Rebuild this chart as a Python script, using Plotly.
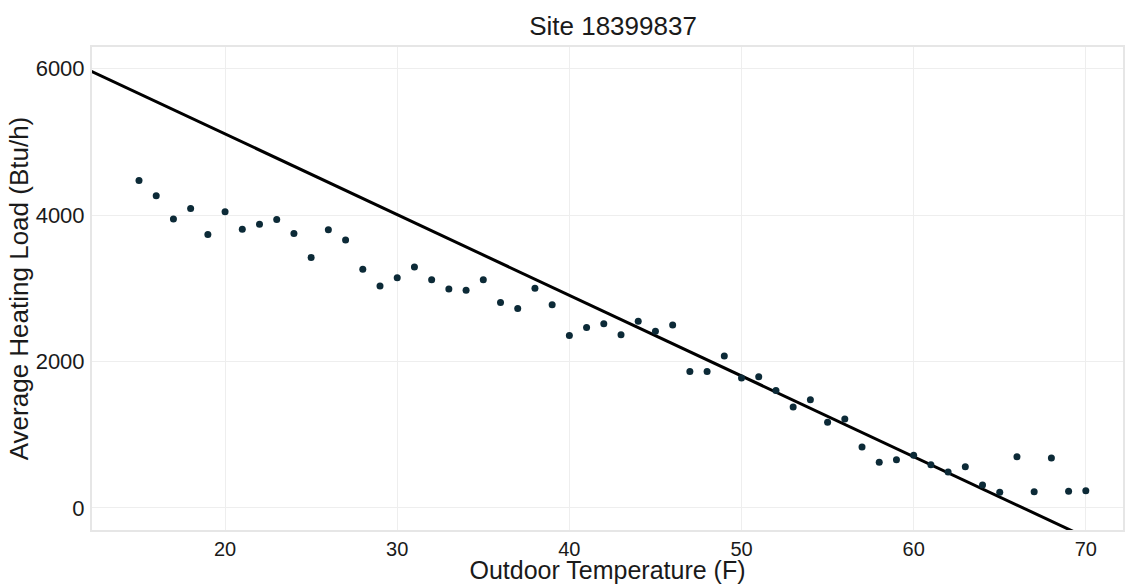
import plotly.graph_objects as go

# Daily-average outdoor temperature bins (F) and measured average heating load (Btu/h)
temps = [15, 16, 17, 18, 19, 20, 21, 22, 23, 24, 25, 26, 27, 28, 29, 30,
         31, 32, 33, 34, 35, 36, 37, 38, 39, 40, 41, 42, 43, 44, 45, 46,
         47, 48, 49, 50, 51, 52, 53, 54, 55, 56, 57, 58, 59, 60, 61, 62,
         63, 64, 65, 66, 67, 68, 69, 70]
heating_load = [4473, 4266, 3946, 4090, 3734, 4045, 3806, 3874, 3941, 3748,
                3423, 3802, 3662, 3261, 3031, 3144, 3293, 3117, 2991, 2973,
                3117, 2806, 2725, 3000, 2775, 2356, 2464, 2518, 2365, 2550,
                2415, 2500, 1865, 1865, 2077, 1774, 1793, 1606, 1378, 1477,
                1172, 1216, 834, 626, 659, 720, 590, 491, 563, 315,
                216, 698, 221, 684, 230, 234]

# Linear heating-load model: load = intercept + slope * temperature
model_intercept = 7313.0
model_slope = -110.2

x_range = [12.27, 72.16]
y_range = [-301, 6297]

model_x = [10.0, 75.0]
model_y = [model_intercept + model_slope * t for t in model_x]

font_family = "Liberation Sans, Arial, sans-serif"
text_color = "#1a1a1a"
grid_color = "#eeeeee"

fig = go.Figure()

fig.add_trace(go.Scatter(
    x=model_x, y=model_y, mode="lines",
    line=dict(color="black", width=3),
    showlegend=False, hoverinfo="skip",
))

fig.add_trace(go.Scatter(
    x=temps, y=heating_load, mode="markers",
    marker=dict(color="#0c2a37", size=7),
    showlegend=False,
))

fig.update_layout(
    width=1125, height=584,
    margin=dict(l=92, r=0, t=47, b=48),
    paper_bgcolor="white", plot_bgcolor="white",
    font=dict(family=font_family, color=text_color),
    title=dict(
        text="Site 18399837",
        x=613 / 1125, xref="container", xanchor="center",
        y=1 - 26 / 584, yref="container", yanchor="middle",
        font=dict(size=26, color=text_color),
    ),
)

fig.update_xaxes(
    range=x_range,
    tickvals=[20, 30, 40, 50, 60, 70],
    tickfont=dict(size=20, color=text_color),
    ticks="", ticklabelstandoff=0,
    showgrid=True, gridcolor=grid_color, gridwidth=1,
    zeroline=False,
    showline=True, mirror=True, linecolor="#e6e6e6", linewidth=2,
    title=dict(text="Outdoor Temperature (F)", font=dict(size=25, color=text_color), standoff=6),
)

fig.update_yaxes(
    range=y_range,
    tickvals=[0, 2000, 4000, 6000],
    tickfont=dict(size=22, color=text_color),
    ticks="", ticklabelstandoff=1,
    showgrid=True, gridcolor=grid_color, gridwidth=1,
    zeroline=False,
    showline=True, mirror=True, linecolor="#e6e6e6", linewidth=2,
    title=dict(text="Average Heating Load (Btu/h)", font=dict(size=26, color=text_color), standoff=0),
)

fig.write_html("out.html")
